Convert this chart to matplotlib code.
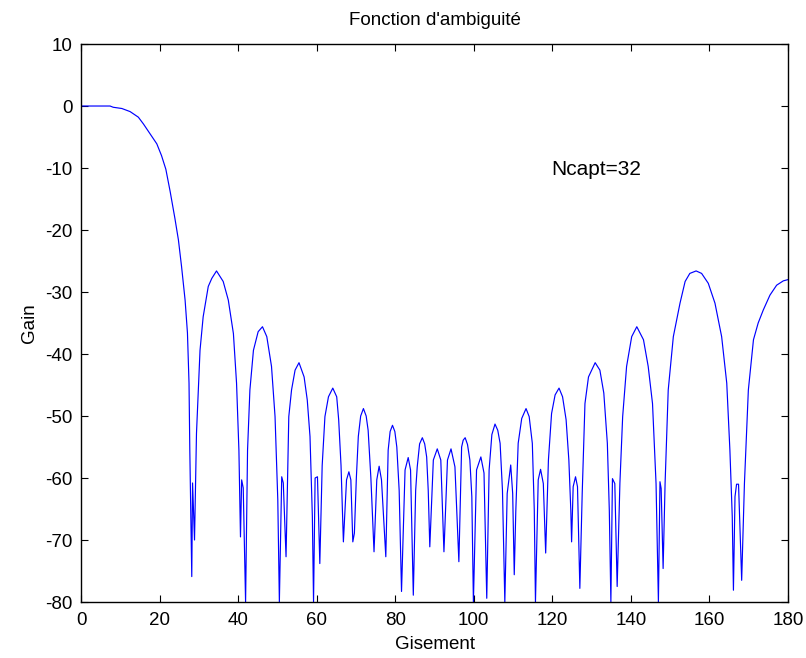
import matplotlib
matplotlib.use("Agg")
import matplotlib.pyplot as plt

plt.rcParams['font.family'] = ['Liberation Sans', 'DejaVu Sans']
plt.rcParams['axes.unicode_minus'] = False

title = "Fonction d'ambiguité"
xlabel = "Gisement"
ylabel = "Gain"
annotation = "Ncapt=32"

gisement = [
    0.0, 3.0, 6.6, 7.4, 8.2, 10.4, 12.5, 14.6, 15.9, 17.6, 19.3, 20.5, 21.6, 22.7, 23.9, 24.8, 25.6,
    26.5, 27.1, 27.5, 27.7, 28.2,
    28.4, 28.9, 29.4, 30.3, 31.1, 32.4, 33.3, 34.5, 36.2, 37.5, 38.8, 39.6, 40.2, 40.6,
    40.9, 41.3, 41.9, 42.4, 43.0, 43.9, 45.1, 46.2, 47.3, 48.5, 49.4, 50.1, 50.5,
    51.1, 51.5, 52.2, 52.9, 53.6, 54.5, 55.5, 56.8, 57.6, 58.3, 58.9, 59.2,
    59.6, 60.2, 60.8, 61.4, 62.1, 63.0, 64.1, 65.1, 65.6, 66.2, 66.8,
    67.6, 68.2, 68.7, 69.2, 69.6, 70.1, 70.6, 71.2, 71.9, 72.6, 73.1, 73.8, 74.6,
    75.3, 75.9, 76.5, 77.6, 78.2, 78.7, 79.3, 79.9, 80.4, 81.0, 81.6,
    82.5, 83.3, 83.9, 84.6, 85.2, 85.6, 86.2, 86.9, 87.5, 88.0, 88.4, 88.8,
    89.7, 90.7, 91.6, 92.4, 93.3, 94.2, 95.2, 96.2,
    96.9, 97.3, 97.8, 98.4, 99.0, 99.5, 99.9, 100.7, 101.8, 102.6, 103.3,
    103.9, 104.6, 105.4, 106.1, 106.7, 107.3, 107.9, 108.5, 109.4, 109.9, 110.3,
    110.7, 111.3, 112.2, 113.3, 114.1, 114.9, 115.4, 115.7, 116.4, 117.0, 117.7, 118.3,
    119.0, 119.8, 120.7, 121.7, 122.6, 123.5, 124.2, 124.7, 124.9, 125.3, 125.9, 126.4, 127.0,
    127.6, 128.3, 129.2, 130.9, 132.1, 133.1, 134.0, 134.5, 134.9, 135.3, 135.9, 136.5,
    137.2, 137.9, 138.9, 140.2, 141.5, 143.2, 144.4, 145.5, 146.4, 147.0,
    147.4, 147.7, 148.2, 148.7, 149.5, 150.8, 152.5, 153.8, 155.0, 156.6,
    158.0, 159.7, 161.4, 163.1, 164.4, 165.2, 165.8, 166.1,
    166.5, 166.9, 167.4, 168.2, 168.9, 169.9, 171.2, 172.4, 173.7, 175.4, 177.1, 178.8, 180.0,
]
gain = [
    0.0, 0.0, 0.0, 0.0, -0.2, -0.4, -0.9, -1.8, -2.9, -4.5, -6.1, -8.0, -10.2, -13.8, -18.1, -21.6, -25.9,
    -31.3, -36.6, -44.7, -55.5, -75.9,
    -60.8, -70.0, -52.8, -39.4, -34.0, -29.1, -27.8, -26.6, -28.3, -31.3, -36.7, -44.7, -55.5, -69.5,
    -60.3, -61.6, -80.0, -55.5, -45.8, -39.4, -36.4, -35.6, -37.2, -42.0, -50.1, -63.5, -80.0,
    -59.8, -60.8, -72.7, -50.1, -45.8, -42.6, -41.4, -43.7, -47.4, -53.3, -66.2, -80.0,
    -60.0, -59.8, -73.8, -58.0, -50.1, -46.9, -45.5, -46.9, -50.6, -58.0, -70.3,
    -60.3, -59.0, -60.3, -70.3, -68.9, -60.0, -53.3, -50.0, -48.8, -50.0, -52.3, -60.0, -71.9,
    -60.3, -58.1, -60.3, -72.7, -55.5, -52.5, -51.5, -52.5, -55.0, -62.0, -78.3,
    -58.7, -56.7, -58.7, -78.9, -62.0, -58.2, -54.5, -53.5, -54.5, -56.6, -62.0, -71.1,
    -57.1, -55.3, -57.1, -71.9, -57.1, -55.3, -58.2, -73.5,
    -55.0, -53.9, -53.5, -54.6, -57.1, -63.0, -80.0, -58.7, -56.6, -59.2, -79.4,
    -58.7, -53.0, -51.3, -52.3, -54.4, -62.0, -80.0, -62.5, -57.9, -62.5, -75.6,
    -65.2, -54.4, -50.4, -48.8, -50.1, -54.4, -65.2, -80.0, -60.3, -58.6, -60.9, -72.1,
    -57.1, -49.6, -46.6, -45.5, -46.9, -50.6, -57.1, -65.2, -70.3, -61.4, -59.8, -61.4, -77.8,
    -62.5, -48.0, -43.7, -41.4, -42.6, -46.3, -54.4, -65.2, -80.0, -60.1, -60.9, -77.5,
    -60.8, -50.1, -42.0, -37.2, -35.6, -37.7, -42.0, -48.0, -60.9, -80.0,
    -60.6, -61.7, -74.6, -60.9, -45.8, -37.2, -31.8, -28.3, -27.0, -26.6,
    -27.0, -28.6, -31.8, -37.2, -44.7, -55.5, -66.2, -78.1,
    -63.0, -61.0, -61.0, -76.5, -60.9, -45.8, -37.7, -35.0, -32.9, -30.5, -28.9, -28.2, -28.0,
]

xticks = [0, 20, 40, 60, 80, 100, 120, 140, 160, 180]
yticks = [10, 0, -10, -20, -30, -40, -50, -60, -70, -80]

fig = plt.figure(figsize=(8.06, 6.58), dpi=100)
ax = fig.add_axes([0.1005, 0.0851, 0.8772, 0.848])
ax.plot(gisement, gain, color='#0000ff', linewidth=0.85)
ax.set_xlim(0, 180)
ax.set_ylim(-80, 10)
ax.set_xticks(xticks)
ax.set_yticks(yticks)
ax.tick_params(direction='in', top=True, right=True, length=5, width=0.8, labelsize=13.5)
ax.tick_params(axis='x', pad=7)
ax.tick_params(axis='y', pad=6)
for s in ax.spines.values():
    s.set_linewidth(1.0)
ax.set_title(title, fontsize=13.5, pad=14)
ax.set_xlabel(xlabel, fontsize=13.5, labelpad=5)
ax.set_ylabel(ylabel, fontsize=13.5, labelpad=5)
ax.text(119.6, -10.3, annotation, fontsize=15, va='center', ha='left')

fig.savefig("out.png", dpi=100)
